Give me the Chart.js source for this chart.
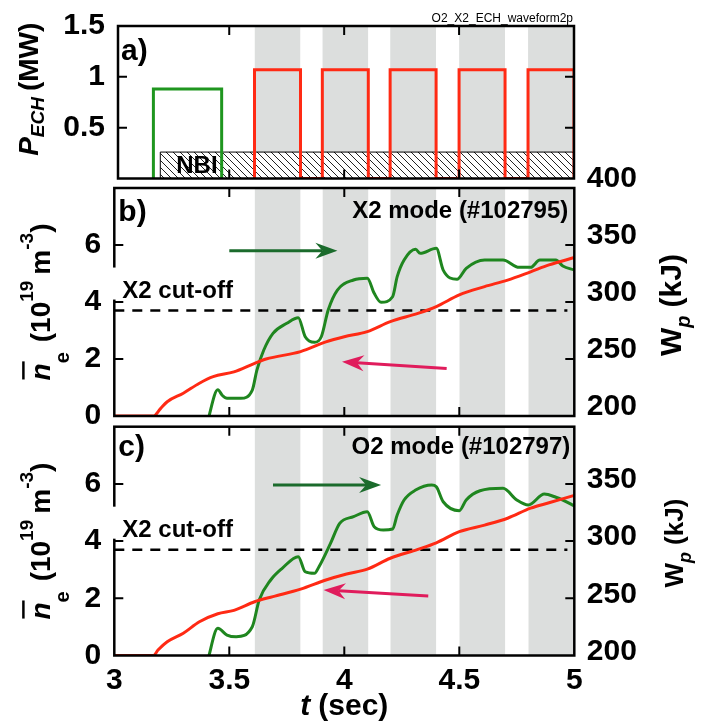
<!DOCTYPE html>
<html><head><meta charset="utf-8">
<script src="https://cdn.jsdelivr.net/npm/chart.js@4.4.1/dist/chart.umd.min.js"></script>
<style>
html,body{margin:0;padding:0;background:#fff;}
#wrap{position:relative;width:704px;height:723px;overflow:hidden;background:#fff;}
canvas{position:absolute;left:0;}
</style></head><body>
<div id="wrap">
<canvas id="ca" style="top:0px" width="704" height="186"></canvas>
<canvas id="cb" style="top:160px" width="704" height="265"></canvas>
<canvas id="cc" style="top:420px" width="704" height="303"></canvas>
</div>
<script>
// ---------------- data ----------------
const X_TICKS  = [3, 3.5, 4, 4.5, 5];
const P_TICKS  = [0, 0.5, 1, 1.5];
const NE_TICKS = [0, 2, 4, 6, 8];
const WP_TICKS = [200, 250, 300, 350, 400];

const ECH_ON  = [3.61, 3.905, 4.2, 4.5, 4.8];   // X2 ECH pulses (shaded)
const ECH_OFF = [3.81, 4.105, 4.4, 4.7, 5.0];
const P_X2 = 1.07;
const O2_PULSE = [3.17, 3.467];
const P_O2 = 0.88;
const NBI_T = [3.2, 5.0];
const P_NBI = 0.26;
const X2_CUTOFF = 3.7;

// panel b (#102795, X2)
const T_NE_B = [3.0, 3.17, 3.20, 3.23, 3.30, 3.37, 3.43, 3.52, 3.61, 3.66, 3.81, 3.92, 4.00, 4.10, 4.20, 4.32, 4.40, 4.50, 4.61, 4.71, 4.81, 4.89, 5.0];
const NE_B   = [0, 0, 0.25, 0.5, 0.8, 1.15, 1.38, 1.55, 1.85, 2.0, 2.26, 2.6, 2.78, 2.96, 3.31, 3.6, 3.84, 4.25, 4.54, 4.77, 5.06, 5.3, 5.56];
const T_WP_B = [3.405, 3.45, 3.47, 3.49, 3.55, 3.60, 3.62, 3.65, 3.69, 3.75, 3.80, 3.83, 3.87, 3.90, 3.93, 3.97, 4.04, 4.10, 4.13, 4.16, 4.21, 4.23, 4.26, 4.31, 4.33, 4.40, 4.43, 4.49, 4.53, 4.61, 4.69, 4.76, 4.81, 4.85, 4.92, 4.95, 5.0];
const WP_B   = [195, 223, 218, 215.5, 215.5, 222.8, 240.3, 257.9, 272.5, 281.3, 286.2, 269.5, 264.6, 269.5, 293, 310.5, 319.3, 320.8, 307.6, 299.7, 304.6, 322.2, 336.8, 346.2, 342.7, 347.1, 328, 319.9, 329.5, 336.8, 336.8, 330.4, 330.4, 336.8, 336.8, 331.6, 328];

// panel c (#102797, O2)
const T_NE_C = [3.0, 3.17, 3.19, 3.23, 3.30, 3.37, 3.45, 3.52, 3.61, 3.69, 3.81, 3.92, 4.01, 4.10, 4.20, 4.32, 4.40, 4.50, 4.61, 4.71, 4.81, 4.89, 5.0];
const NE_C   = [0, 0, 0.19, 0.48, 0.78, 1.18, 1.46, 1.58, 1.88, 2.06, 2.32, 2.64, 2.85, 3.02, 3.4, 3.71, 3.94, 4.33, 4.56, 4.8, 5.15, 5.34, 5.6];
const T_WP_C = [3.405, 3.45, 3.49, 3.53, 3.60, 3.63, 3.68, 3.73, 3.80, 3.83, 3.87, 3.89, 3.94, 3.98, 4.04, 4.10, 4.13, 4.17, 4.21, 4.23, 4.26, 4.31, 4.38, 4.40, 4.43, 4.50, 4.53, 4.59, 4.69, 4.75, 4.80, 4.87, 4.92, 4.95, 5.0];
const WP_C   = [195, 223.8, 217.9, 216.4, 225.2, 248.5, 266, 276.2, 286.4, 273.2, 271.8, 277.6, 298, 315.5, 321.3, 325.7, 312.6, 309.7, 310.6, 322.8, 335.9, 344.6, 349, 347.5, 334.4, 326.6, 335.9, 344, 346.1, 335.9, 331.5, 341.1, 338.3, 335.9, 330.7];

// arrows [[t0,v0],[t1,v1]]
const ARROW_WP_B = [[3.50, 345], [3.97, 345]];
const ARROW_NE_B = [[4.445, 1.67], [3.99, 1.90]];
const ARROW_WP_C = [[3.69, 349], [4.16, 349]];
const ARROW_NE_C = [[4.365, 2.08], [3.91, 2.29]];

// ---------------- styles ----------------
const FONT = "'Liberation Sans', Arial, Helvetica, sans-serif";
const GRAY = '#dcdedd';
const RED = '#ff2a14';
const GREEN = '#1f861f';
const GREEN_A = '#1f961f';
const ARROW_G = '#1b6b2c';
const ARROW_P = '#e01c5c';

function pts(t, v) { return t.map((x, i) => ({x, y: v[i]})); }
function bands(top) {
  return ECH_ON.map((on, i) => ({
    data: [{x: on, y: top}, {x: ECH_OFF[i], y: top}],
    fill: 'start', backgroundColor: GRAY, borderColor: 'rgba(0,0,0,0)', borderWidth: 0,
    pointRadius: 0, order: 50
  }));
}
function fnt(size, weight, style) { return (style || '') + ' ' + (weight || 'bold') + ' ' + size + 'px ' + FONT; }

function drawRich(ctx, x, y, parts, rot) {
  ctx.save();
  ctx.translate(x, y);
  if (rot) ctx.rotate(rot);
  ctx.textBaseline = 'alphabetic'; ctx.textAlign = 'left'; ctx.fillStyle = '#000';
  let total = 0;
  parts.forEach(p => { ctx.font = fnt(p.s, 'bold', p.it ? 'italic' : ''); p.w = ctx.measureText(p.t).width; total += p.w + (p.gap || 0); });
  let cx = -total / 2;
  parts.forEach(p => {
    ctx.font = fnt(p.s, 'bold', p.it ? 'italic' : '');
    ctx.fillText(p.t, cx, -(p.dy || 0));
    if (p.over) {
      ctx.lineWidth = 2.5; ctx.strokeStyle = '#000';
      ctx.beginPath(); ctx.moveTo(cx + 1, -p.s * 0.95); ctx.lineTo(cx + p.w + 2, -p.s * 0.95); ctx.stroke();
    }
    cx += p.w + (p.gap || 0);
  });
  ctx.restore();
}

function arrow(ctx, x0, y0, x1, y1, color, lw) {
  const ang = Math.atan2(y1 - y0, x1 - x0), L = 22, W = 8, N = 15;
  ctx.save();
  ctx.strokeStyle = color; ctx.fillStyle = color; ctx.lineWidth = lw; ctx.lineCap = 'butt';
  ctx.beginPath(); ctx.moveTo(x0, y0); ctx.lineTo(x1 - N * Math.cos(ang), y1 - N * Math.sin(ang)); ctx.stroke();
  ctx.translate(x1, y1); ctx.rotate(ang);
  ctx.beginPath(); ctx.moveTo(0, 0); ctx.lineTo(-L, -W); ctx.lineTo(-N, 0); ctx.lineTo(-L, W); ctx.closePath(); ctx.fill();
  ctx.restore();
}

function decoPlugin(cfg) {
  return {
    id: 'deco',
    afterDatasetsDraw(chart) {
      const {ctx, chartArea: a, scales} = chart;
      const xs = scales.x, ys = scales.y;
      ctx.save();
      // frame
      ctx.strokeStyle = '#000'; ctx.lineWidth = 2.5;
      ctx.strokeRect(a.left, a.top, a.right - a.left, a.bottom - a.top);
      // inward ticks
      ctx.lineWidth = 2; const TL = 9;
      ctx.beginPath();
      X_TICKS.forEach(v => {
        if (v <= xs.min + 1e-6 || v >= xs.max - 1e-6) return;
        const px = xs.getPixelForValue(v);
        ctx.moveTo(px, a.bottom); ctx.lineTo(px, a.bottom - TL);
        ctx.moveTo(px, a.top); ctx.lineTo(px, a.top + TL);
      });
      cfg.yTicks.forEach(v => {
        if (v <= ys.min + 1e-6 || v >= ys.max - 1e-6) return;
        const py = ys.getPixelForValue(v);
        ctx.moveTo(a.left, py); ctx.lineTo(a.left + TL, py);
        ctx.moveTo(a.right, py); ctx.lineTo(a.right - TL, py);
      });
      ctx.stroke();
      // cover box + cutoff label
      if (cfg.cutoff) {
        const py = ys.getPixelForValue(X2_CUTOFF);
        ctx.fillStyle = '#fff';
        ctx.fillRect(a.left - 3, py - 43, 118, 32);
        ctx.fillStyle = '#000'; ctx.font = fnt(24); ctx.textAlign = 'left'; ctx.textBaseline = 'alphabetic';
        ctx.fillText('X2 cut-off', a.left + 8, py - 13);
      }
      // texts
      ctx.fillStyle = '#000'; ctx.textBaseline = 'alphabetic';
      ctx.font = fnt(30); ctx.textAlign = 'left';
      ctx.fillText(cfg.tag, a.left + cfg.tagDx, a.top + cfg.tagDy);
      if (cfg.mode) {
        ctx.font = fnt(24); ctx.textAlign = 'right';
        ctx.fillText(cfg.mode, a.right - cfg.modeDx, a.top + cfg.modeDy);
      }
      if (cfg.nbi) {
        ctx.font = fnt(24); ctx.textAlign = 'left';
        ctx.fillText('NBI', xs.getPixelForValue(NBI_T[0]) + 16, a.bottom - 5.5);
        ctx.font = fnt(12, 'normal'); ctx.textAlign = 'right';
        ctx.fillText('O2_X2_ECH_waveform2p', a.right - 1, a.top - 4);
      }
      // arrows
      if (cfg.arrows) {
        const y1s = scales.y1;
        const g = cfg.arrows.wp, p = cfg.arrows.ne;
        arrow(ctx, xs.getPixelForValue(g[0][0]), y1s.getPixelForValue(g[0][1]), xs.getPixelForValue(g[1][0]), y1s.getPixelForValue(g[1][1]), ARROW_G, 3);
        arrow(ctx, xs.getPixelForValue(p[0][0]), ys.getPixelForValue(p[0][1]), xs.getPixelForValue(p[1][0]), ys.getPixelForValue(p[1][1]), ARROW_P, 3);
      }
      // axis titles
      const cy = (a.top + a.bottom) / 2;
      if (cfg.leftTitle) drawRich(ctx, cfg.leftTitle.x, cy + (cfg.leftTitle.dy || 0), cfg.leftTitle.parts, -Math.PI / 2);
      if (cfg.rightTitle) drawRich(ctx, cfg.rightTitle.x, cy + (cfg.rightTitle.dy || 0), cfg.rightTitle.parts, -Math.PI / 2);
      if (cfg.xTitle) drawRich(ctx, (a.left + a.right) / 2, a.bottom + cfg.xTitle.dy, cfg.xTitle.parts, 0);
      ctx.restore();
    }
  };
}

const tickFont = {family: FONT, size: 30, weight: 'bold'};
function fixW(w) { return s => { s.width = w; s.paddingTop = 0; s.paddingBottom = 0; }; }
const baseOpts = {
  animation: false, responsive: false, devicePixelRatio: 1, events: [],
  plugins: {legend: {display: false}, tooltip: {enabled: false}}
};

// ---------------- panel a ----------------
const ctxA = document.getElementById('ca').getContext('2d');
const hc = document.createElement('canvas'); hc.width = 7; hc.height = 7;
const hg = hc.getContext('2d');
hg.fillStyle = '#fff'; hg.fillRect(0, 0, 7, 7);
hg.strokeStyle = '#222'; hg.lineWidth = 1;
hg.beginPath(); hg.moveTo(-1, -1); hg.lineTo(8, 8); hg.moveTo(-1, 6); hg.lineTo(1, 8); hg.moveTo(6, -1); hg.lineTo(8, 1); hg.stroke();
const HATCH = ctxA.createPattern(hc, 'repeat');

const x2Wave = [];
ECH_ON.forEach((on, i) => { x2Wave.push({x: on, y: 0}, {x: on, y: P_X2}, {x: ECH_OFF[i], y: P_X2}, {x: ECH_OFF[i], y: 0}); });
const o2Wave = [{x: O2_PULSE[0], y: 0}, {x: O2_PULSE[0], y: P_O2}, {x: O2_PULSE[1], y: P_O2}, {x: O2_PULSE[1], y: 0}];
const nbiBox = [{x: NBI_T[0], y: 0}, {x: NBI_T[0], y: P_NBI}, {x: NBI_T[1], y: P_NBI}, {x: NBI_T[1], y: 0}];

new Chart(ctxA, {
  type: 'line',
  data: {datasets: [
    ...bands(1.5),
    {data: nbiBox, fill: 'origin', backgroundColor: HATCH, borderColor: '#000', borderWidth: 1, pointRadius: 0, tension: 0, order: 20},
    {data: o2Wave, fill: false, borderColor: GREEN_A, borderWidth: 3, pointRadius: 0, tension: 0, order: 2},
    {data: x2Wave, fill: false, borderColor: RED, borderWidth: 3, pointRadius: 0, tension: 0, order: 1}
  ]},
  options: Object.assign({}, baseOpts, {
    layout: {padding: {top: 26, bottom: 7.5, left: 0, right: 130}},
    scales: {
      x: {type: 'linear', min: 3.016, max: 5, display: false},
      y: {type: 'linear', min: 0, max: 1.5, afterFit: fixW(118),
          grid: {display: false, drawTicks: false}, border: {display: false},
          ticks: {stepSize: 0.5, padding: 13, font: tickFont, color: '#000', callback: v => (v === 0 ? null : String(v))}}
    }
  }),
  plugins: [decoPlugin({
    yTicks: P_TICKS, tag: 'a)', tagDx: 3, tagDy: 34, nbi: true,
    leftTitle: {x: 38, dy: -13, parts: [
      {t: 'P', s: 28, it: true}, {t: 'ECH', s: 19, it: true, dy: -6, gap: 6}, {t: '(MW)', s: 28}
    ]}
  })]
});

// ---------------- panels b & c ----------------
function nePanel(id, padTop, padBottom, tNe, ne, tWp, wp, arrows, cfg, isBottom) {
  const scales = {
    x: isBottom ? {
      type: 'linear', min: 3, max: 5,
      afterFit: s => { s.height = 67.5; s.paddingLeft = 0; s.paddingRight = 0; },
      grid: {display: false, drawTicks: false}, border: {display: false},
      ticks: {stepSize: 0.5, padding: 7, maxRotation: 0, autoSkip: false, font: tickFont, color: '#000',
              callback: v => String(v)}
    } : {type: 'linear', min: 3, max: 5, display: false},
    y: {type: 'linear', position: 'left', min: 0, max: 8, afterFit: fixW(114.3),
        grid: {display: false, drawTicks: false}, border: {display: false},
        ticks: {stepSize: 2, padding: 13, font: tickFont, color: '#000', autoSkip: false,
                callback: v => (v === 8 ? null : String(v))}},
    y1: {type: 'linear', position: 'right', min: 200, max: 400, afterFit: fixW(129.7),
         grid: {display: false, drawTicks: false}, border: {display: false},
         ticks: {stepSize: 50, padding: 12.5, labelOffset: cfg.rOff, font: tickFont, color: '#000', autoSkip: false,
                 callback: v => ((v === 400 && !cfg.show400) ? null : String(v))}}
  };
  new Chart(document.getElementById(id), {
    type: 'line',
    data: {datasets: [
      ...bands(8),
      {data: [{x: 3.0, y: X2_CUTOFF}, {x: 4.97, y: X2_CUTOFF}], yAxisID: 'y', fill: false, borderColor: '#000',
       borderWidth: 2.5, borderDash: [10, 8], pointRadius: 0, tension: 0, order: 10},
      {data: pts(tWp, wp), yAxisID: 'y1', fill: false, borderColor: GREEN, borderWidth: 3, pointRadius: 0,
       cubicInterpolationMode: 'monotone', order: 3},
      {data: pts(tNe, ne), yAxisID: 'y', fill: false, borderColor: RED, borderWidth: 3, pointRadius: 0,
       cubicInterpolationMode: 'monotone', order: 2}
    ]},
    options: Object.assign({}, baseOpts, {
      layout: {padding: {top: padTop, bottom: padBottom, left: 0, right: 0}},
      scales
    }),
    plugins: [decoPlugin(Object.assign({yTicks: NE_TICKS, cutoff: true, arrows}, cfg))]
  });
}

const neTitle = [
  {t: 'n', s: 28, it: true, over: true}, {t: 'e', s: 20, dy: -19, gap: 10},
  {t: '(10', s: 28}, {t: '19', s: 19, dy: 17, gap: 6}, {t: 'm', s: 28}, {t: '-3', s: 19, dy: 17}, {t: ')', s: 28}
];

nePanel('cb', 28, 9, T_NE_B, NE_B, T_WP_B, WP_B, {wp: ARROW_WP_B, ne: ARROW_NE_B}, {
  tag: 'b)', tagDx: 4, tagDy: 33, mode: 'X2 mode (#102795)', modeDx: 6, modeDy: 30, rOff: -9, show400: true,
  leftTitle: {x: 50, dy: 0, parts: neTitle},
  rightTitle: {x: 681, dy: 3, parts: [{t: 'W', s: 30}, {t: 'p', s: 20, it: true, dy: -9, gap: 8}, {t: '(kJ)', s: 30}]}
}, false);

nePanel('cc', 6.7, 0, T_NE_C, NE_C, T_WP_C, WP_C, {wp: ARROW_WP_C, ne: ARROW_NE_C}, {
  tag: 'c)', tagDx: 4, tagDy: 29, mode: 'O2 mode (#102797)', modeDx: 4, modeDy: 27, rOff: -4, show400: false,
  leftTitle: {x: 50, dy: 0, parts: neTitle},
  rightTitle: {x: 683, dy: 2, parts: [{t: 'W', s: 26}, {t: 'p', s: 18, it: true, dy: -8, gap: 7}, {t: '(kJ)', s: 26}]},
  xTitle: {dy: 59, parts: [{t: 't', s: 30, it: true, gap: 8}, {t: '(sec)', s: 30}]}
}, true);
</script>
</body></html>
